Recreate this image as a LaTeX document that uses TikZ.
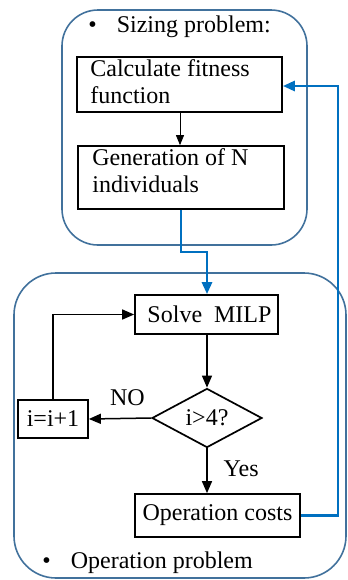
\documentclass[tikz,border=0pt]{standalone}
\usepackage{fontspec}
\setmainfont{Liberation Serif}
\usetikzlibrary{shapes.geometric,arrows.meta}
\definecolor{frameblue}{HTML}{41719C}
\definecolor{flowblue}{HTML}{0070C0}
\begin{document}
\begin{tikzpicture}[x=0.5pt,y=-0.5pt,
  every node/.style={font=\fontsize{12}{13.5}\selectfont},
  stepbox/.style={draw=black,line width=0.85pt,rectangle,inner sep=0pt},
  frame/.style={draw=frameblue,line width=0.8pt,rounded corners=18pt},
  blk/.style={draw=black,line width=0.75pt,-{Triangle[length=6pt,width=5pt]}},
  thin blk/.style={draw=black,line width=0.4pt,-{Triangle[length=5pt,width=4pt]}},
  blu/.style={draw=flowblue,line width=1.4pt,-{Triangle[length=6pt,width=5pt]}},
  lbl/.style={inner sep=0pt}]
\useasboundingbox (0,0) rectangle (348,580);
% frames
\draw[frame] (62,10) rectangle (307,245);
\draw[frame,rounded corners=21pt] (14,273) rectangle (346,578);
\node[lbl,anchor=base west] (t1) at (88,32) {•\hspace{10pt}Sizing problem:};
\node[lbl,anchor=base west] (t2) at (42,568) {•\hspace{10pt}Operation problem};
% boxes
\node[stepbox,minimum width=102.5pt,minimum height=27.5pt] (calc) at (179.5,84.5) {};
\node[lbl,anchor=north west,align=left] (calct) at (90,59) {Calculate fitness\\function};
\node[stepbox,minimum width=103pt,minimum height=31.5pt] (gen) at (181,177.5) {};
\node[lbl,anchor=north west,align=left] (gent) at (92,148) {Generation of N\\individuals};
\node[stepbox,minimum width=71.5pt,minimum height=19.5pt] (milp) at (206.5,314.5) {\hspace{3pt}Solve\ \ MILP};
\node[draw=black,line width=0.85pt,diamond,minimum width=55pt,minimum height=26pt,inner sep=0pt] (dec) at (207,418) {i>4?};
\node[stepbox,minimum width=35pt,minimum height=19pt] (inc) at (53,419) {i=i+1};
\node[stepbox,minimum width=82.5pt,minimum height=21.5pt] (op) at (217.5,515.5) {Operation costs};
% connectors
\draw[thin blk] (calc.south -| 180,0) -- (gen.north -| 180,0);
\draw[blu] (gen.south -| 181,0) -- (181,252) -- (207,252) -- (milp.north -| 207,0);
\draw[blk] (milp.south -| dec.north) -- (dec.north);
\draw[blk] (dec.west) -- (inc.east) node[lbl,pos=0.38,above=6pt] (no) {NO};
\draw[blk] (inc.north) -- (inc.north |- milp.west) -- (milp.west);
\draw[blk] (dec.south) -- (op.north -| dec.south) node[lbl,pos=0.45,right=8pt] (yes) {Yes};
\draw[blu] (op.east) -- (338,515.5) -- (338,86) -- (calc.east |- 0,86);
\end{tikzpicture}
\end{document}
